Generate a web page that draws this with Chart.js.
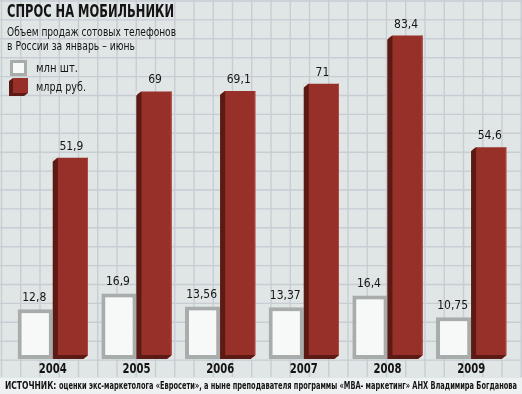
<!DOCTYPE html>
<html>
<head>
<meta charset="utf-8">
<script src="https://cdn.jsdelivr.net/npm/chart.js@4/dist/chart.umd.min.js"></script>
<style>
  html, body { margin: 0; padding: 0; background: #dfe6e5; }
  #chart { display: block; }
</style>
</head>
<body>
<canvas id="chart" width="522" height="394"></canvas>
<script>
// Data
const years = ["2004", "2005", "2006", "2007", "2008", "2009"];
const unitsMln = [12.8, 16.9, 13.56, 13.37, 16.4, 10.75];
const salesBlnRub = [51.9, 69, 69.1, 71, 83.4, 54.6];

const FONT = "'Liberation Sans Narrow', 'DejaVu Sans Condensed', 'Open Sans', sans-serif";
const BG = "#dfe6e5";
const RED = "#98302a";
const DARK_RED = "#5c1a14";
const GRAY = "#a8acab";
const WHITE = "#f7f8f8";
const INK = "#141414";

const fmt = (v) => String(v).replace(".", ",");

// background, grid and source band
const backdrop = {
  id: "backdrop",
  beforeDraw(chart) {
    const ctx = chart.ctx;
    const w = chart.width, h = chart.height;
    ctx.save();
    ctx.fillStyle = BG;
    ctx.fillRect(0, 0, w, h);
    ctx.strokeStyle = "#c8ccd3";
    ctx.lineWidth = 1.4;
    ctx.beginPath();
    for (let x = 1.5; x < w; x += 19.25) {
      ctx.moveTo(x, 0);
      ctx.lineTo(x, 377);
    }
    for (let y = 1; y < 378; y += 18.9) {
      ctx.moveTo(0, y);
      ctx.lineTo(w, y);
    }
    ctx.stroke();
    ctx.fillStyle = "#eef1f1";
    ctx.fillRect(0, 378, w, h - 378);
    ctx.restore();
  },
  afterDatasetsDraw(chart) {
    const ctx = chart.ctx;
    ctx.save();

    // 3D sides on the red bars
    chart.getDatasetMeta(1).data.forEach((bar) => {
      const { x, y, base, width } = bar.getProps(["x", "y", "base", "width"], true);
      const x1 = x - width / 2, x2 = x + width / 2;
      ctx.fillStyle = DARK_RED;
      ctx.beginPath();
      ctx.moveTo(x1, y + 4);
      ctx.lineTo(x1 + 5, y);
      ctx.lineTo(x1 + 5, base - 4);
      ctx.lineTo(x2, base - 4);
      ctx.lineTo(x2 - 5, base);
      ctx.lineTo(x1, base);
      ctx.closePath();
      ctx.fill();
      ctx.fillStyle = BG;
      ctx.beginPath();
      ctx.moveTo(x1 - 0.5, y - 0.5);
      ctx.lineTo(x1 + 5, y - 0.5);
      ctx.lineTo(x1 - 0.5, y + 4);
      ctx.closePath();
      ctx.fill();
      ctx.beginPath();
      ctx.moveTo(x2 + 0.5, base - 4);
      ctx.lineTo(x2 + 0.5, base + 0.5);
      ctx.lineTo(x2 - 5, base + 0.5);
      ctx.closePath();
      ctx.fill();
      ctx.fillStyle = "#b04a40";
      ctx.fillRect(x2 - 1, y, 1, base - 4 - y);
    });

    // value labels
    ctx.fillStyle = INK;
    ctx.textAlign = "center";
    ctx.textBaseline = "alphabetic";
    ctx.font = "12px " + FONT;
    [0, 1].forEach((di) => {
      const values = di === 0 ? unitsMln : salesBlnRub;
      chart.getDatasetMeta(di).data.forEach((bar, i) => {
        const { x, y } = bar.getProps(["x", "y"], true);
        ctx.fillText(fmt(values[i]), x + (di === 1 ? 1 : -1), y - 8);
      });
    });

    // year labels under each group
    ctx.font = "bold 14px " + FONT;
    ctx.textBaseline = "middle";
    const xs = chart.scales.x;
    years.forEach((yr, i) => {
      ctx.fillText(yr, xs.getPixelForValue(i), 369, 28);
    });
    ctx.restore();
  },
  afterDraw(chart) {
    const ctx = chart.ctx;
    ctx.save();
    ctx.fillStyle = INK;
    ctx.textAlign = "left";
    ctx.textBaseline = "middle";

    ctx.font = "bold 18px " + FONT;
    ctx.fillText("СПРОС НА МОБИЛЬНИКИ", 7, 12, 167);

    ctx.font = "12px " + FONT;
    ctx.fillText("Объем продаж сотовых телефонов", 7, 33, 169);
    ctx.fillText("в России за январь – июнь", 7, 47, 128);

    // legend
    ctx.fillStyle = GRAY;
    ctx.fillRect(10, 60, 17, 16);
    ctx.fillStyle = WHITE;
    ctx.fillRect(13, 63, 11, 10);
    ctx.fillStyle = RED;
    ctx.fillRect(13, 78, 15, 15);
    ctx.fillStyle = DARK_RED;
    ctx.beginPath();
    ctx.moveTo(9, 81);
    ctx.lineTo(13, 78);
    ctx.lineTo(13, 93);
    ctx.lineTo(28, 93);
    ctx.lineTo(24, 96);
    ctx.lineTo(9, 96);
    ctx.closePath();
    ctx.fill();

    ctx.fillStyle = INK;
    ctx.font = "11.5px " + FONT;
    ctx.fillText("млн шт.", 36, 69, 42);
    ctx.fillText("млрд руб.", 36, 88, 50);

    // source line
    ctx.font = "bold 10px " + FONT;
    const head = "ИСТОЧНИК: ";
    const rest = "оценки экс-маркетолога «Евросети», а ныне преподавателя программы «MBA- маркетинг» АНХ Владимира Богданова";
    ctx.fillText(head, 5, 386, 54);
    ctx.fillText(rest, 59, 386, 458);
    ctx.restore();
  },
};

new Chart(document.getElementById("chart"), {
  type: "bar",
  data: {
    labels: years,
    datasets: [
      {
        label: "млн шт.",
        data: unitsMln,
        backgroundColor: WHITE,
        borderColor: GRAY,
        borderWidth: 4,
        borderSkipped: false,
      },
      {
        label: "млрд руб.",
        data: salesBlnRub,
        backgroundColor: RED,
        borderWidth: 0,
      },
    ],
  },
  options: {
    responsive: false,
    animation: false,
    events: [],
    layout: { padding: { left: 11, right: 9, top: 10, bottom: 35 } },
    datasets: {
      bar: { categoryPercentage: 0.84, barPercentage: 1 },
    },
    scales: {
      x: { display: false },
      y: { display: false, min: 0, max: 90 },
    },
    plugins: {
      legend: { display: false },
      tooltip: { enabled: false },
    },
  },
  plugins: [backdrop],
});
</script>
</body>
</html>
